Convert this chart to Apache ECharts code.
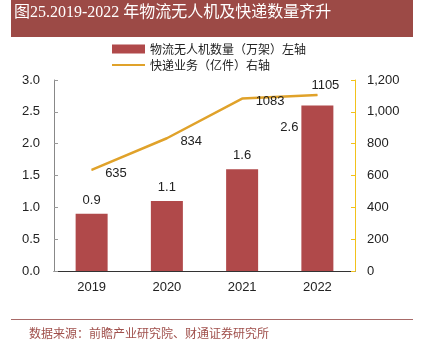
<!DOCTYPE html>
<html>
<head>
<meta charset="utf-8">
<script src="https://cdn.jsdelivr.net/npm/echarts@6/dist/echarts.min.js"></script>
<style>
  html, body { margin: 0; padding: 0; background: #fff; }
  #main { width: 421px; height: 350px; }
</style>
</head>
<body>
<div id="main"></div>
<script>
// data
var years = ['2019', '2020', '2021', '2022'];
var drones = [0.9, 1.1, 1.6, 2.6];          // 万架, left axis
var parcels = [635, 834, 1083, 1105];       // 亿件, right axis
var droneName = '物流无人机数量（万架）左轴';
var parcelName = '快递业务（亿件）右轴';
var titleText = '图25.2019-2022 年物流无人机及快递数量齐升';
var sourceText = '数据来源：前瞻产业研究院、财通证券研究所';

var myChart = echarts.init(document.getElementById('main'));

// bar labels: last one sits to the left of the bar
var barData = drones.map(function (v, i) {
    if (i === drones.length - 1) {
        return { value: v, label: { position: [-3, 22], align: 'right', verticalAlign: 'middle' } };
    }
    return v;
});
// line labels: mostly to the right, last above
var lineData = parcels.map(function (v, i) {
    if (i === parcels.length - 1) {
        return { value: v, label: { position: 'top', offset: [8, 2] } };
    }
    return { value: v, label: { position: 'right', offset: [8, 3] } };
});

myChart.setOption({
    animation: false,
    textStyle: { fontFamily: 'Liberation Sans, Arial, sans-serif' },
    graphic: [
        {
            type: 'rect', left: 11, top: 0,
            shape: { width: 402, height: 37 },
            style: { fill: '#9c4a46' }
        },
        {
            type: 'text', left: 14, top: 5,
            style: {
                text: titleText, fill: '#fff',
                font: '16px "Liberation Serif", "Noto Sans CJK SC", serif'
            }
        },
        {
            type: 'line',
            shape: { x1: 11, y1: 319.5, x2: 413, y2: 319.5 },
            style: { stroke: '#a86a68', lineWidth: 1 }
        },
        {
            type: 'text', left: 29, top: 327,
            style: {
                text: sourceText, fill: '#a0504c',
                font: '12px "Noto Sans CJK SC", sans-serif'
            }
        }
    ],
    legend: {
        orient: 'vertical',
        left: 106,
        top: 38,
        itemWidth: 33,
        itemHeight: 9,
        itemGap: 4,
        textStyle: { fontSize: 12, color: '#222', fontFamily: '"Noto Sans CJK SC", sans-serif' },
        data: [
            { name: droneName, icon: 'rect' },
            { name: parcelName, itemStyle: { color: 'rgba(0,0,0,0)', borderWidth: 0 } }
        ]
    },
    grid: { left: 54, right: 66, top: 80, bottom: 79 },
    xAxis: {
        type: 'category',
        data: years,
        axisLine: { lineStyle: { color: '#333' } },
        axisTick: { inside: true, length: 4, lineStyle: { color: '#999' } },
        axisLabel: { color: '#222', fontSize: 13, margin: 10 }
    },
    yAxis: [
        {
            type: 'value', min: 0, max: 3, interval: 0.5,
            axisLine: { show: true, lineStyle: { color: '#888' } },
            axisTick: { show: true, inside: true, length: 4, lineStyle: { color: '#999' } },
            splitLine: { show: false },
            axisLabel: {
                color: '#222', fontSize: 13, margin: 14,
                formatter: function (v) { return v.toFixed(1); }
            }
        },
        {
            type: 'value', min: 0, max: 1200, interval: 200,
            position: 'right',
            axisLine: { show: true, lineStyle: { color: '#f2c21b' } },
            axisTick: { show: true, inside: true, length: 4, lineStyle: { color: '#f2c21b' } },
            splitLine: { show: false },
            axisLabel: {
                color: '#222', fontSize: 13, margin: 12,
                formatter: function (v) { return v.toLocaleString('en-US'); }
            }
        }
    ],
    series: [
        {
            name: droneName,
            type: 'bar',
            yAxisIndex: 0,
            barWidth: 32,
            data: barData,
            itemStyle: { color: '#b0494a' },
            label: { show: true, position: 'top', distance: 7, color: '#222', fontSize: 13 }
        },
        {
            name: parcelName,
            type: 'line',
            yAxisIndex: 1,
            data: lineData,
            symbol: 'circle',
            symbolSize: 1,
            lineStyle: { color: '#e0a22a', width: 2.5 },
            itemStyle: { color: '#e0a22a' },
            label: { show: true, color: '#222', fontSize: 13 }
        }
    ]
});
</script>
</body>
</html>
